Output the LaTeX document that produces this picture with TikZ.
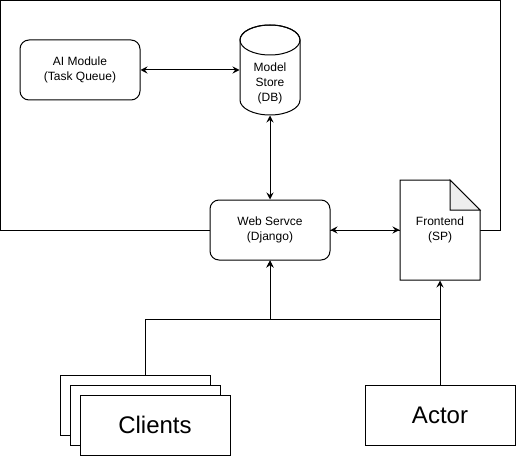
\documentclass[tikz,border=0pt]{standalone}
\usepackage{fontspec}
\setmainfont{Liberation Sans}
\usetikzlibrary{arrows.meta}
\begin{document}
\begin{tikzpicture}[x=1pt,y=1pt,
  line width=1pt,
  small/.style={font=\fontsize{12}{15}\selectfont, align=center},
  big/.style={font=\fontsize{24}{28}\selectfont},
  rbox/.style={draw, fill=white, rounded corners=9pt, minimum width=120pt, minimum height=60pt, inner sep=0pt, small},
  sbox/.style={draw, fill=white, minimum width=150pt, minimum height=60pt, inner sep=0pt, big},
  tip/.style={-{Stealth[length=7pt,width=7pt,inset=2.5pt]}},
  dtip/.style={{Stealth[length=7pt,width=7pt,inset=2.5pt]}-{Stealth[length=7pt,width=7pt,inset=2.5pt]}}
]
\useasboundingbox (0,0) rectangle (516,-457);
% outer frame
\draw (0.5,-0.5) rectangle (500,-230);

% AI module
\node[rbox] (ai) at (80,-70) {AI Module\\(Task Queue)};

% Model store cylinder
\path[draw, fill=white] (240,-40) -- (240,-100)
  arc[start angle=180, end angle=360, x radius=30, y radius=15]
  -- (300,-40) arc[start angle=0, end angle=180, x radius=30, y radius=15] -- cycle;
\draw (270,-40) ellipse [x radius=30, y radius=15];
\node[minimum width=60pt, minimum height=90pt, inner sep=0pt] (store) at (270,-70) {};
\node[small] (storetxt) at (270,-83.5) {Model\\Store\\(DB)};

% Web service
\node[rbox] (web) at (270,-230) {Web Servce\\(Django)};

% Frontend document
\path[draw, fill=white] (400,-180) -- (450,-180) -- (480,-210) -- (480,-280) -- (400,-280) -- cycle;
\path[draw, fill=black!7] (450,-180) -- (450,-210) -- (480,-210) -- cycle;
\node[minimum width=80pt, minimum height=100pt, inner sep=0pt, small] (fe) at (440,-230) {Frontend\\(SP)};

% Clients stack
\node[sbox] (clients3) at (135,-405) {};
\node[sbox] (clients2) at (145,-415) {};
\node[sbox] (clients) at (155,-425) {Clients};

% Actor
\node[sbox] (actor) at (440,-415) {Actor};

% connectors
\draw[dtip] (ai) -- (store);
\draw[dtip] (store) -- (web);
\draw[dtip] (web) -- (fe);
\draw[tip] ([xshift=10pt]clients3.north) -- ++(0,55) -| (web.south);
\draw[tip] (actor.north) -- ++(0,65) -| (web.south);
\draw[tip] (actor.north) -- (fe.south);
\end{tikzpicture}
\end{document}
